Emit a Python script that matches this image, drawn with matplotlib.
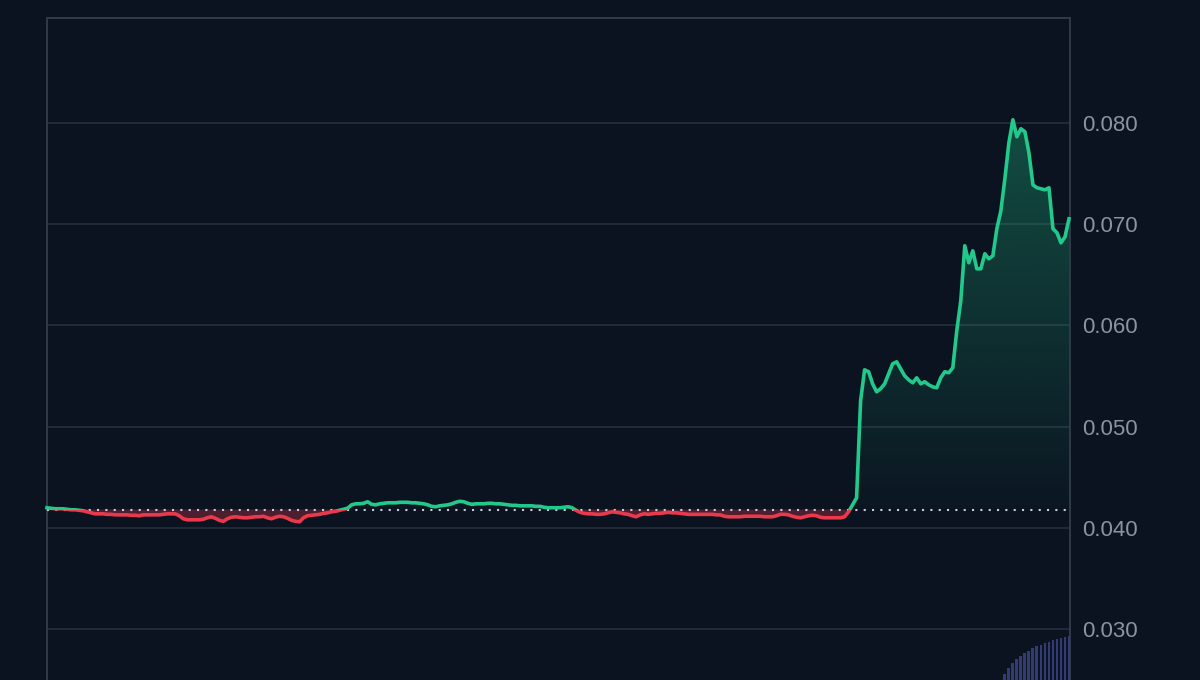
import numpy as np
import matplotlib
matplotlib.use("Agg")
import matplotlib.pyplot as plt
from matplotlib.patches import Rectangle
from matplotlib.path import Path
from matplotlib.colors import to_rgb

# ---------------- data ----------------
price = [
    0.04198, 0.04193, 0.04188, 0.04188, 0.04188, 0.04183, 0.04178, 0.04178, 0.04173, 0.04168,
    0.04158, 0.04148, 0.04138, 0.04138, 0.04138, 0.04133, 0.04133, 0.04128, 0.04128, 0.04128,
    0.04128, 0.04124, 0.04124, 0.04119, 0.04128, 0.04128, 0.04128, 0.04128, 0.04128, 0.04133,
    0.04138, 0.04138, 0.04138, 0.04119, 0.04089, 0.04079, 0.04079, 0.04079, 0.04079, 0.04084,
    0.04099, 0.04109, 0.04094, 0.04074, 0.04064, 0.04089, 0.04104, 0.04109, 0.04104, 0.04099,
    0.04099, 0.04104, 0.04109, 0.04109, 0.04114, 0.04099, 0.04089, 0.04104, 0.04114, 0.04109,
    0.04094, 0.04074, 0.04064, 0.04059, 0.04099, 0.04119, 0.04124, 0.04128, 0.04133, 0.04143,
    0.04148, 0.04158, 0.04163, 0.04173, 0.04183, 0.04193, 0.04227, 0.04237, 0.04237, 0.04242,
    0.04257, 0.04232, 0.04227, 0.04237, 0.04242, 0.04247, 0.04247, 0.04247, 0.04252, 0.04252,
    0.04252, 0.04247, 0.04247, 0.04242, 0.04237, 0.04227, 0.04212, 0.04208, 0.04217, 0.04222,
    0.04227, 0.04237, 0.04252, 0.04262, 0.04257, 0.04242, 0.04232, 0.04237, 0.04237, 0.04237,
    0.04242, 0.04242, 0.04237, 0.04237, 0.04232, 0.04227, 0.04222, 0.04222, 0.04217, 0.04217,
    0.04217, 0.04217, 0.04212, 0.04212, 0.04203, 0.04198, 0.04198, 0.04198, 0.04198, 0.04203,
    0.04208, 0.04198, 0.04173, 0.04153, 0.04143, 0.04138, 0.04138, 0.04133, 0.04133, 0.04138,
    0.04148, 0.04158, 0.04153, 0.04148, 0.04138, 0.04133, 0.04119, 0.04109, 0.04128, 0.04138,
    0.04133, 0.04138, 0.04143, 0.04143, 0.04148, 0.04153, 0.04148, 0.04148, 0.04143, 0.04138,
    0.04133, 0.04133, 0.04133, 0.04133, 0.04133, 0.04133, 0.04133, 0.04128, 0.04128, 0.04114,
    0.04109, 0.04109, 0.04109, 0.04109, 0.04114, 0.04114, 0.04114, 0.04114, 0.04114, 0.04109,
    0.04109, 0.04109, 0.04119, 0.04133, 0.04133, 0.04128, 0.04114, 0.04104, 0.04099, 0.04109,
    0.04119, 0.04124, 0.04119, 0.04104, 0.04099, 0.04099, 0.04099, 0.04099, 0.04099, 0.04109,
    0.04158, 0.04227, 0.04296, 0.05255, 0.05561, 0.05542, 0.05423, 0.05344, 0.05374, 0.05423,
    0.05522, 0.05621, 0.05640, 0.05571, 0.05502, 0.05462, 0.05433, 0.05482, 0.05423, 0.05443,
    0.05413, 0.05393, 0.05383, 0.05482, 0.05542, 0.05532, 0.05581, 0.05947, 0.06243, 0.06787,
    0.06619, 0.06737, 0.06559, 0.06559, 0.06708, 0.06658, 0.06688, 0.06955, 0.07132, 0.07449,
    0.07804, 0.08032, 0.07864, 0.07943, 0.07913, 0.07706, 0.07389, 0.07360, 0.07350, 0.07340,
    0.07360, 0.06955, 0.06915, 0.06816, 0.06875, 0.07053,
]
# volume of the most recent samples (arbitrary units)
volume = [6, 12, 17, 21, 24, 27, 29, 32, 34, 35.5, 37, 38.5, 40, 41, 42, 43, 44]
baseline = 0.0418
yticks = [0.030, 0.040, 0.050, 0.060, 0.070, 0.080]
ytick_labels = ["0.030", "0.040", "0.050", "0.060", "0.070", "0.080"]

# ---------------- style ----------------
BG = "#0b1320"
GRID = "#27303d"
SPINE = "#313b49"
TICK = "#8b94a3"
GREEN = "#22c98a"
RED = "#e83a4c"
VOL = "#323b74"

plt.rcParams["font.family"] = ["Liberation Sans", "DejaVu Sans"]

x = np.arange(len(price))
y = np.array(price)
xlim = (0, len(price) - 1 + 0.25)
ymin, ymax = 0.024960, 0.090375

fig = plt.figure(figsize=(12, 6.8), dpi=100, facecolor=BG)
ax = fig.add_axes([47 / 1200, 0.0, (1070 - 47) / 1200, (680 - 18) / 680])
ax.set_facecolor(BG)

# volume bars on a twin axis
ax2 = ax.twinx()
vx = x[-len(volume):]
ax2.bar(vx, volume, width=0.72, color=VOL, linewidth=0, zorder=1)
ax2.set_ylim(0, max(volume) * 15.05)
ax2.set_yticks([])
for s in ax2.spines.values():
    s.set_visible(False)
ax2.set_xlim(xlim)

ax.set_zorder(ax2.get_zorder() - 1)

ax.set_ylim(ymin, ymax)
ax.set_xlim(xlim)

# grid and ticks
ax.set_yticks(yticks)
ax.set_yticklabels(ytick_labels)
ax.yaxis.grid(True, color=GRID, linewidth=1.1)
ax.set_axisbelow(True)
ax.set_xticks([])
ax.yaxis.tick_right()
ax.yaxis.set_label_position("right")
ax.tick_params(axis="y", which="both", left=False, right=False, labelleft=False,
               labelright=True, length=0, pad=8.5, labelsize=16, labelcolor=TICK)

for side in ["left", "top", "right"]:
    ax.spines[side].set_color(SPINE)
    ax.spines[side].set_linewidth(1.4)
ax.spines["bottom"].set_visible(False)

# red fill below baseline
ax.fill_between(x, y, baseline, where=y < baseline, interpolate=True,
                color=RED, alpha=0.30, linewidth=0, zorder=2)

# green gradient fill above baseline
poly = ax.fill_between(x, y, baseline, where=y > baseline, interpolate=True,
                       facecolor="none", edgecolor="none", zorder=2)
top = y.max()
grad = np.linspace(0, 1, 256).reshape(-1, 1)
rgba = np.zeros((256, 1, 4))
rgba[..., :3] = to_rgb(GREEN)
rgba[..., 3] = 0.02 + 0.30 * grad
im = ax.imshow(rgba, extent=[0, len(price) - 1, baseline, top], origin="lower",
               aspect="auto", zorder=2, interpolation="bilinear")
paths = poly.get_paths()
im.set_clip_path(Path.make_compound_path(*paths), ax.transData)
ax.set_xlim(xlim)
ax.set_ylim(ymin, ymax)

# dotted baseline
ax.axhline(baseline, color="#c9ced6", linewidth=1.5, linestyle=(0, (1, 3)), zorder=3)

# price line, coloured by side of baseline
x0, x1 = -1, len(price) + 1
up_clip = Rectangle((x0, baseline), x1 - x0, 1, transform=ax.transData)
dn_clip = Rectangle((x0, baseline - 1), x1 - x0, 1, transform=ax.transData)
lg, = ax.plot(x, y, color=GREEN, linewidth=2.6, zorder=4, solid_joinstyle="round")
lr, = ax.plot(x, y, color=RED, linewidth=2.6, zorder=4, solid_joinstyle="round")
lg.set_clip_path(up_clip)
lr.set_clip_path(dn_clip)

fig.savefig("out.png", dpi=100, facecolor=BG)
